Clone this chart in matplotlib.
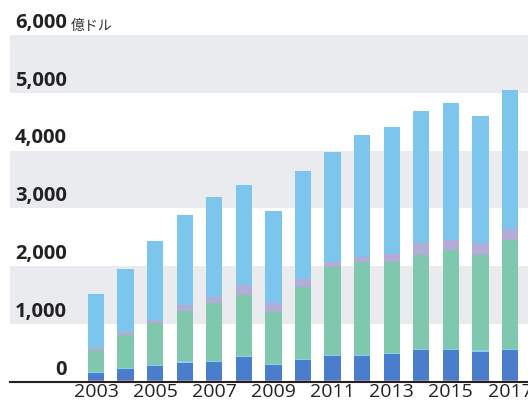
import numpy as np
import matplotlib
matplotlib.use("Agg")
import matplotlib.pyplot as plt

# values in 億ドル
years = list(range(2003, 2018))
mauve = [30, 30, 30, 30, 30, 30, 30, 30, 30, 30, 30, 30, 30, 30, 30]
dark_blue = [125, 190, 245, 300, 315, 400, 260, 350, 420, 420, 450, 520, 520, 490, 520]
cyan = [25, 25, 25, 25, 25, 25, 25, 25, 25, 25, 25, 25, 25, 25, 25]
green = [370, 565, 720, 870, 990, 1045, 895, 1235, 1505, 1595, 1565, 1615, 1705, 1645, 1875]
lavender = [50, 50, 50, 105, 110, 170, 150, 135, 90, 100, 150, 210, 170, 210, 190]
light_blue = [930, 1090, 1360, 1550, 1730, 1730, 1600, 1865, 1910, 2100, 2190, 2290, 2380, 2200, 2410]

yticks = [0, 1000, 2000, 3000, 4000, 5000, 6000]
ytick_labels = ["0", "1,000", "2,000", "3,000", "4,000", "5,000", "6,000"]
xtick_years = years[::2]

series = [mauve, dark_blue, cyan, green, lavender, light_blue]
colors = ["#9c8bb5", "#4a7dcc", "#86d2ea", "#7fc8ae", "#b2add6", "#7cc5ec"]

fig = plt.figure(figsize=(5.28, 4.01), dpi=100)
ax = fig.add_axes([10 / 528, 1 - 382 / 401, 1 - 10 / 528, (382 - 35) / 401])

# alternating bands
for lo in (1000, 3000, 5000):
    ax.axhspan(lo, lo + 1000, color="#e9ebee", lw=0, zorder=0)

bottom = np.zeros(len(years))
for vals, c in zip(series, colors):
    ax.bar(years, vals, bottom=bottom, width=0.55, color=c, lw=0, zorder=2)
    bottom += np.array(vals)

ax.set_xlim(2003 - 86 / 29.57, 2017 + 18 / 29.57)
ax.set_ylim(0, 6000)

for s in ["top", "right", "left"]:
    ax.spines[s].set_visible(False)
ax.spines["bottom"].set_linewidth(1.5)
ax.spines["bottom"].set_color("#222222")
ax.set_yticks([])
ax.set_xticks(xtick_years)
ax.set_xticklabels([str(y) for y in xtick_years], fontsize=14,
                   fontfamily="Open Sans", color="#222222")
ax.tick_params(axis="x", length=0, pad=1)

# y labels sit just above their lines
for v, lab in zip(yticks, ytick_labels):
    ax.text(2003 - 29 / 29.57, v + 40, lab, ha="right", va="bottom",
            fontsize=14.5, fontweight="bold", fontfamily="Open Sans",
            color="#222222", zorder=3)
ax.text(2003 - 25 / 29.57, 6040, "億ドル", ha="left", va="bottom",
        fontsize=10, fontfamily=["Noto Sans CJK JP", "DejaVu Sans"],
        color="#333333")

fig.savefig("out.png", dpi=100)
